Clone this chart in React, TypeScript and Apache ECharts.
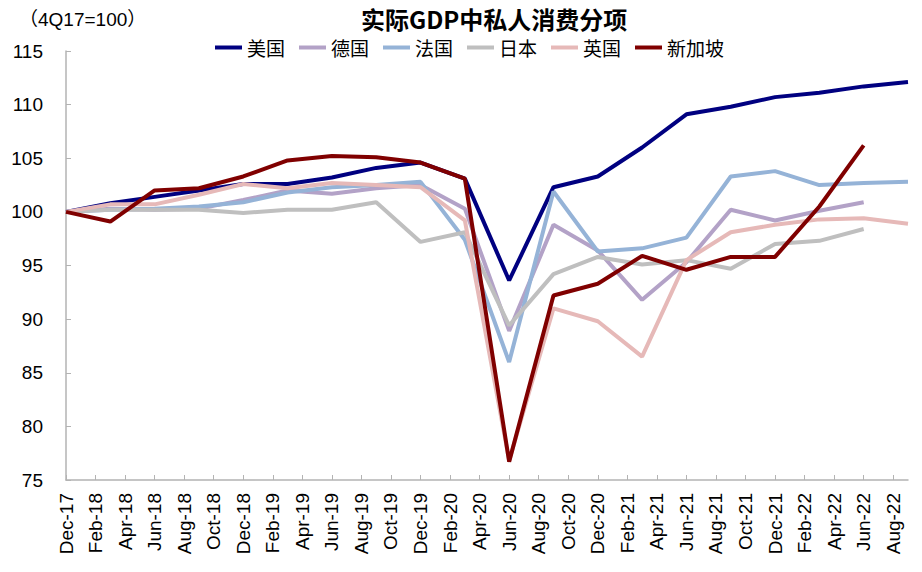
import { useEffect, useRef } from 'react'
import * as echarts from 'echarts'

// quarter-end points, Dec-17 .. Sep-22
const quarters = [
  'Dec-17', 'Mar-18', 'Jun-18', 'Sep-18', 'Dec-18', 'Mar-19', 'Jun-19', 'Sep-19', 'Dec-19', 'Mar-20',
  'Jun-20', 'Sep-20', 'Dec-20', 'Mar-21', 'Jun-21', 'Sep-21', 'Dec-21', 'Mar-22', 'Jun-22', 'Sep-22',
]

const us = [100, 100.8, 101.4, 102.0, 102.6, 102.6, 103.2, 104.1, 104.6, 103.1, 93.6, 102.3, 103.3, 106.0, 109.1, 109.8, 110.7, 111.1, 111.7, 112.1]
const germany = [100, 100.3, 100.2, 100.3, 101.1, 102.0, 101.7, 102.2, 102.5, 100.3, 88.9, 98.8, 96.4, 91.8, 95.3, 100.2, 99.2, 100.1, 100.9, null]
const france = [100, 100.2, 100.3, 100.5, 100.9, 101.8, 102.3, 102.5, 102.8, 97.4, 86.0, 101.9, 96.3, 96.6, 97.6, 103.3, 103.8, 102.5, 102.7, 102.8]
const japan = [100, 100.2, 100.2, 100.2, 99.9, 100.2, 100.2, 100.9, 97.2, 98.1, 89.4, 94.2, 95.8, 95.1, 95.5, 94.7, 97.0, 97.3, 98.4, null]
const uk = [100, 100.7, 100.7, 101.6, 102.6, 102.2, 102.7, 102.5, 102.3, 99.2, 76.8, 91.0, 89.8, 86.5, 95.5, 98.1, 98.8, 99.3, 99.4, 98.9]
const singapore = [100, 99.1, 102.0, 102.2, 103.3, 104.8, 105.2, 105.1, 104.6, 103.1, 76.7, 92.2, 93.3, 95.9, 94.6, 95.8, 95.8, 100.5, 106.2, null]

const seriesNames = ['美国', '德国', '法国', '日本', '英国', '新加坡']
const seriesColors = ['#000080', '#b3a2c7', '#95b3d7', '#bfbfbf', '#e6b9b8', '#800000']

// monthly category axis Dec-17 .. Sep-22
const monthNames = ['Jan', 'Feb', 'Mar', 'Apr', 'May', 'Jun', 'Jul', 'Aug', 'Sep', 'Oct', 'Nov', 'Dec']
const months: string[] = []
for (let k = 0; k < 58; k++) {
  const m = (11 + k) % 12
  const y = 17 + Math.floor((11 + k) / 12)
  months.push(`${monthNames[m]}-${y}`)
}

const FONT = '"Liberation Sans", Arial, "Noto Sans CJK SC", sans-serif'

export default function App() {
  const chartRef = useRef<HTMLDivElement>(null)

  useEffect(() => {
    if (!chartRef.current) return
    const chart = echarts.init(chartRef.current, undefined, { renderer: 'svg' })

    const all = [us, germany, france, japan, uk, singapore]

    chart.setOption({
      animation: false,
      backgroundColor: '#fff',
      textStyle: { fontFamily: FONT },
      title: [
        {
          text: '实际GDP中私人消费分项',
          left: 356,
          top: 1,
          textStyle: { fontSize: 24, fontWeight: 'bold', color: '#000', fontFamily: '"Noto Sans CJK SC", sans-serif' },
        },
        {
          text: '（4Q17=100）',
          left: 14,
          top: 5,
          textStyle: { fontSize: 19, fontWeight: 'normal', color: '#000', fontFamily: FONT },
        },
      ],
      legend: {
        left: 210,
        top: 33,
        icon: 'rect',
        itemWidth: 27,
        itemHeight: 4,
        itemGap: 14,
        textStyle: { fontSize: 19, color: '#000', fontFamily: '"Noto Sans CJK SC", sans-serif' },
        data: seriesNames,
      },
      grid: { left: 66, right: 14, top: 51, bottom: 92 },
      xAxis: {
        type: 'category',
        data: months,
        boundaryGap: false,
        axisLine: { lineStyle: { color: '#b3b3b3', width: 1.5 } },
        axisTick: { inside: true, length: 5, interval: 1, lineStyle: { color: '#b3b3b3' } },
        axisLabel: { interval: 1, rotate: 90, fontSize: 19, color: '#000', margin: 13 },
        splitLine: { show: false },
      },
      yAxis: {
        type: 'value',
        min: 75,
        max: 115,
        interval: 5,
        axisLine: { show: true, lineStyle: { color: '#b3b3b3', width: 1.5 } },
        axisTick: { show: true, inside: true, length: 5, lineStyle: { color: '#b3b3b3' } },
        axisLabel: { fontSize: 19, color: '#000', margin: 23 },
        splitLine: { show: false },
      },
      series: seriesNames.map((name, s) => ({
        name,
        type: 'line',
        showSymbol: false,
        symbol: 'none',
        connectNulls: true,
        lineStyle: { width: 4, color: seriesColors[s] },
        itemStyle: { color: seriesColors[s] },
        data: quarters
          .map((q, i) => [q, all[s][i]])
          .filter((d) => d[1] != null),
      })),
    })

    return () => {
      chart.dispose()
    }
  }, [])

  return (
    <div
      ref={chartRef}
      style={{ position: 'fixed', left: 0, top: 0, width: 922, height: 572 }}
    />
  )
}
